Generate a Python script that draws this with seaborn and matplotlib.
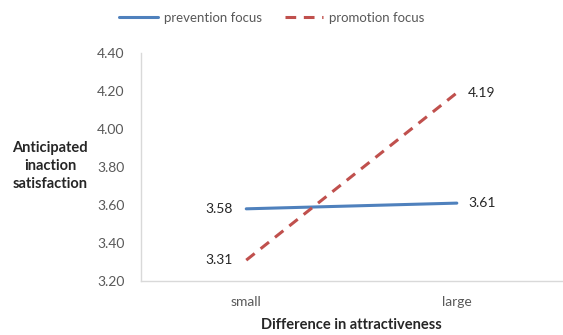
import matplotlib
matplotlib.use("Agg")
import matplotlib.pyplot as plt
import seaborn as sns
import pandas as pd
from matplotlib.lines import Line2D

# Data
categories = ["small", "large"]
prevention = [3.58, 3.61]
promotion = [3.31, 4.19]
series_names = ["prevention focus", "promotion focus"]
y_ticks = [3.20, 3.40, 3.60, 3.80, 4.00, 4.20, 4.40]

sns.set_style("white")
plt.rcParams["font.family"] = ["Lato", "DejaVu Sans"]

df = pd.DataFrame({
    "x": list(range(len(categories))) * 2,
    "value": prevention + promotion,
    "series": [series_names[0]] * 2 + [series_names[1]] * 2,
})

blue = "#4F81BD"
red = "#C0504D"
gray_text = "#595959"
dark_text = "#262626"

fig = plt.figure(figsize=(5.63, 3.35), dpi=100)
ax = fig.add_axes([0.2504, 0.161, 0.748, 0.681])

sns.lineplot(data=df, x="x", y="value", hue="series", style="series",
             palette={series_names[0]: blue, series_names[1]: red},
             dashes={series_names[0]: "", series_names[1]: (3.5, 2.5)},
             linewidth=2.2, ax=ax, legend=False)

ax.set_xlim(-0.5, 1.5)
ax.set_ylim(3.2, 4.4)
ax.set_yticks(y_ticks)
ax.set_yticklabels([f"{v:.2f}" for v in y_ticks], color=gray_text, fontsize=10)
ax.set_xticks(range(len(categories)))
ax.set_xticklabels(categories, color=gray_text, fontsize=10)
ax.tick_params(axis="y", length=0, pad=12)
ax.tick_params(axis="x", length=0, pad=11)

for side in ["top", "right"]:
    ax.spines[side].set_visible(False)
for side in ["left", "bottom"]:
    ax.spines[side].set_color("#D9D9D9")
    ax.spines[side].set_linewidth(1)

ax.set_xlabel("Difference in attractiveness", fontsize=10.5, fontweight="bold",
              color=dark_text, labelpad=7)
ax.set_ylabel("")
fig.text(0.089, 0.505, "Anticipated\ninaction\nsatisfaction", ha="center", va="center",
         fontsize=10.5, fontweight="bold", color=dark_text, linespacing=1.35)

# value labels beside each end point
for i, (vp, vr) in enumerate(zip(prevention, promotion)):
    off, ha = ((-10, "right") if i == 0 else (8, "left"))
    for v in (vp, vr):
        ax.annotate(f"{v:.2f}", (i, v), xytext=(off, 0), textcoords="offset points",
                    ha=ha, va="center", fontsize=10, color=dark_text)

# legend
handles = [Line2D([], [], color=blue, lw=2.2),
           Line2D([], [], color=red, lw=2.2, linestyle=(0, (3.5, 2.5)))]
fig.legend(handles, series_names, loc="center", bbox_to_anchor=(0.483, 0.947), ncol=2,
           frameon=False, fontsize=9.5, labelcolor=gray_text, handlelength=2.9,
           handletextpad=0.45, columnspacing=1.75)

fig.savefig("out.png", dpi=100)
